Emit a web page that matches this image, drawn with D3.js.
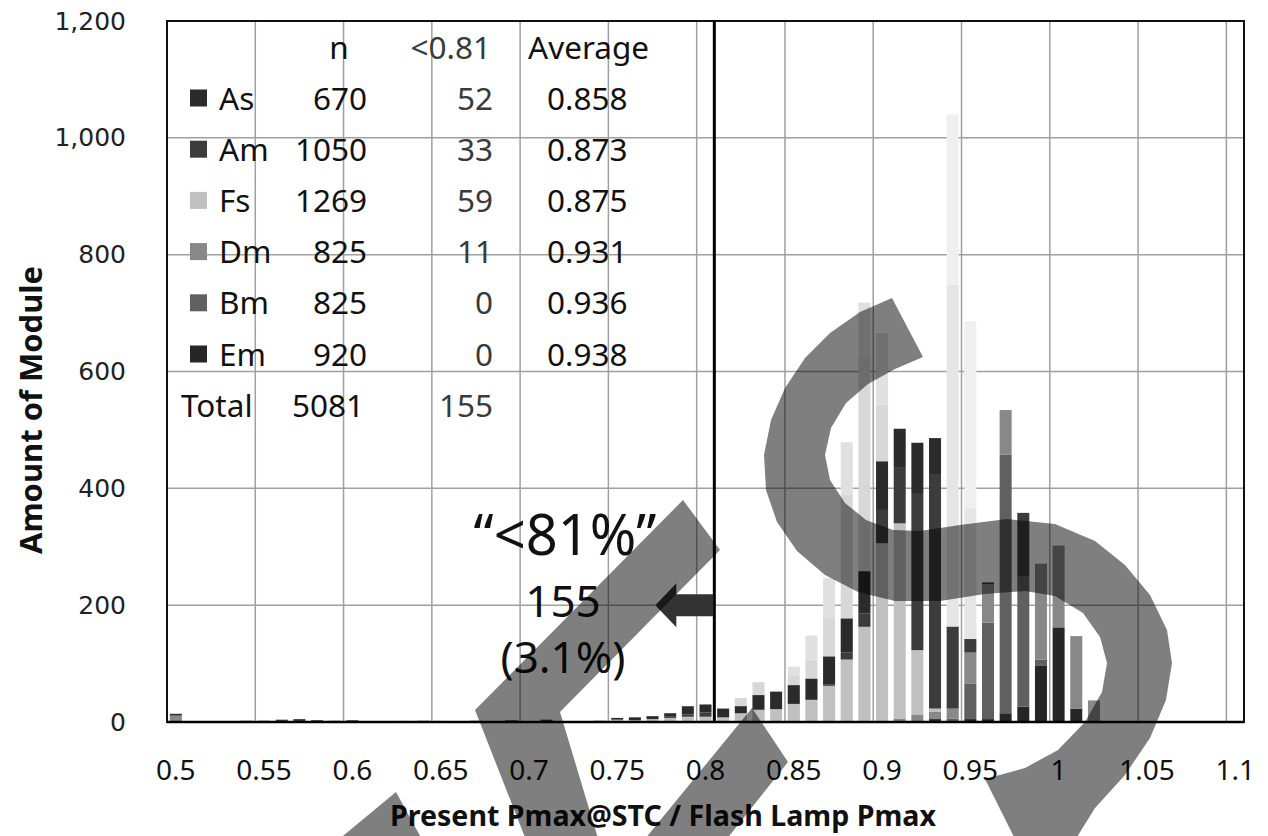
<!DOCTYPE html>
<html>
<head>
<meta charset="utf-8">
<script src="https://cdn.jsdelivr.net/npm/d3@7"></script>
<style>
  html, body { margin: 0; padding: 0; background: #fff; }
  svg { display: block; }
</style>
</head>
<body>
<svg id="chart" width="1268" height="836"></svg>
<script>
// Histogram bins of the Pmax ratio (0.01 wide)
const bins = [
  0.50, 0.51, 0.52, 0.53, 0.54, 0.55, 0.56, 0.57, 0.58, 0.59,
  0.60, 0.61, 0.62, 0.63, 0.64, 0.65, 0.66, 0.67, 0.68, 0.69,
  0.70, 0.71, 0.72, 0.73, 0.74, 0.75, 0.76, 0.77, 0.78, 0.79,
  0.80, 0.81, 0.82, 0.83, 0.84, 0.85, 0.86, 0.87, 0.88, 0.89,
  0.90, 0.91, 0.92, 0.93, 0.94, 0.95, 0.96, 0.97, 0.98, 0.99,
  1.00, 1.01, 1.02, 1.03, 1.04, 1.05, 1.06, 1.07, 1.08, 1.09,
  1.10
];
const tickLabels = ["0.5", "0.55", "0.6", "0.65", "0.7", "0.75", "0.8",
                    "0.85", "0.9", "0.95", "1", "1.05", "1.1"];
const yTicks = [0, 200, 400, 600, 800, 1000, 1200];

// Module counts per bin, one array per plant
const Em = [
  0, 0, 0, 0, 0, 0, 0, 0, 0, 0,
  0, 0, 0, 0, 0, 0, 0, 0, 0, 0,
  0, 0, 0, 0, 0, 0, 0, 0, 0, 0,
  0, 0, 0, 0, 0, 0, 0, 0, 0, 0,
  0, 0, 0, 5, 0, 5, 5, 15, 26, 96,
  162, 23, 0, 0, 0, 0, 0, 0, 0, 0,
  0
];
const Bm = [
  0, 0, 0, 0, 0, 0, 0, 0, 0, 0,
  0, 0, 0, 0, 0, 0, 0, 0, 0, 0,
  0, 0, 0, 0, 0, 0, 0, 0, 0, 0,
  0, 0, 0, 0, 0, 0, 0, 0, 0, 0,
  0, 0, 0, 0, 6, 61, 165, 443, 224, 11,
  0, 0, 0, 0, 0, 0, 0, 0, 0, 0,
  0
];
const Dm = [
  11, 0, 0, 0, 0, 0, 0, 0, 0, 0,
  0, 0, 0, 0, 0, 0, 0, 0, 0, 0,
  0, 0, 0, 0, 0, 0, 0, 0, 0, 0,
  0, 0, 0, 0, 0, 0, 0, 0, 0, 0,
  0, 6, 13, 13, 17, 53, 66, 76, 0, 164,
  140, 124, 37, 0, 0, 0, 0, 0, 0, 0,
  0
];
const Fs = [
  0, 0, 0, 0, 3, 3, 0, 0, 0, 3,
  0, 0, 0, 2, 3, 2, 0, 3, 0, 0,
  0, 0, 0, 0, 3, 4, 3, 5, 7, 9,
  9, 8, 15, 21, 22, 31, 38, 62, 107, 163,
  306, 334, 110, 5, 0, 0, 0, 0, 0, 0,
  0, 0, 0, 0, 0, 0, 0, 0, 0, 0,
  0
];
const Am = [
  0, 0, 0, 0, 0, 0, 4, 5, 0, 0,
  3, 0, 0, 0, 0, 0, 0, 0, 0, 3,
  0, 4, 0, 0, 0, 0, 0, 0, 3, 4,
  7, 0, 0, 0, 0, 0, 0, 2, 12, 23,
  57, 95, 269, 400, 140, 23, 3, 0, 108, 0,
  0, 0, 0, 0, 0, 0, 0, 0, 0, 0,
  0
];
const As = [
  3, 0, 0, 0, 0, 0, 0, 0, 3, 0,
  0, 0, 0, 0, 0, 0, 0, 0, 0, 0,
  0, 0, 0, 0, 0, 3, 5, 5, 5, 14,
  14, 15, 12, 25, 30, 32, 36, 48, 58, 72,
  83, 67, 86, 63, 0, 0, 0, 0, 0, 0,
  0, 0, 0, 0, 0, 0, 0, 0, 0, 0,
  0
];

// Faint background columns behind the stacks (two tones, lower and upper parts)
const faintLower = [
  0, 0, 0, 0, 0, 0, 0, 0, 0, 0,
  0, 0, 0, 0, 0, 0, 0, 0, 0, 0,
  0, 0, 0, 0, 0, 0, 0, 0, 0, 0,
  0, 0, 41, 68, 0, 80, 107, 178, 389, 625,
  543, 0, 0, 0, 0, 0, 0, 0, 0, 0,
  0, 0, 0, 0, 0, 0, 0, 0, 0, 0,
  0
];
const faintUpper = [
  0, 0, 0, 0, 0, 0, 0, 0, 0, 0,
  0, 0, 0, 0, 0, 0, 0, 0, 0, 0,
  0, 0, 0, 0, 0, 0, 0, 0, 0, 0,
  0, 0, 0, 0, 0, 15, 41, 68, 90, 93,
  123, 0, 0, 0, 0, 0, 0, 0, 0, 0,
  0, 0, 0, 0, 0, 0, 0, 0, 0, 0,
  0
];
const paleLower = [
  0, 0, 0, 0, 0, 0, 0, 0, 0, 0,
  0, 0, 0, 0, 0, 0, 0, 0, 0, 0,
  0, 0, 0, 0, 0, 0, 0, 0, 0, 0,
  0, 0, 0, 0, 0, 0, 0, 0, 0, 0,
  0, 0, 0, 0, 749, 366, 0, 0, 0, 0,
  0, 0, 0, 0, 0, 0, 0, 0, 0, 0,
  0
];
const paleUpper = [
  0, 0, 0, 0, 0, 0, 0, 0, 0, 0,
  0, 0, 0, 0, 0, 0, 0, 0, 0, 0,
  0, 0, 0, 0, 0, 0, 0, 0, 0, 0,
  0, 0, 0, 0, 0, 0, 0, 0, 0, 0,
  0, 0, 0, 0, 291, 320, 0, 0, 0, 0,
  0, 0, 0, 0, 0, 0, 0, 0, 0, 0,
  0
];

// Summary table
const tableNames = ["As", "Am", "Fs", "Dm", "Bm", "Em"];
const tableN = [670, 1050, 1269, 825, 825, 920];
const tableBelow = [52, 33, 59, 11, 0, 0];
const tableAvg = ["0.858", "0.873", "0.875", "0.931", "0.936", "0.938"];
const totalN = 5081;
const totalBelow = 155;
const threshold = 0.81;
const calloutCount = 155;
const calloutShare = "3.1%";

// ---------------------------------------------------------------
const colors = {
  Em: "#262626", Bm: "#606060", Dm: "#888888",
  Fs: "#c0c0c0", Am: "#3c3c3c", As: "#2b2b2b"
};
const stackOrder = ["Em", "Bm", "Dm", "Fs", "Am", "As"];
const seriesData = { Em, Bm, Dm, Fs, Am, As };
const faintData = { faintLower, paleLower, faintUpper, paleUpper };
const faintOrder = ["faintLower", "paleLower", "faintUpper", "paleUpper"];
const faintColors = {
  faintLower: "#d8d8d8", faintUpper: "#e0e0e0",
  paleLower: "#e5e5e5", paleUpper: "#efefef"
};

const svg = d3.select("#chart");
const plot = { left: 167, right: 1244, top: 21, bottom: 722 };

const x = d3.scaleBand()
  .domain(bins)
  .range([plot.left, plot.right])
  .paddingInner(0.32)
  .paddingOuter(0.16);
const y = d3.scaleLinear().domain([0, 1200]).range([plot.bottom, plot.top]);
const half = x.step() * 0.16;   // half gap, so cell edges are x(b) - half
const cellLeft = b => x(b) - half;

// grid
const grid = svg.append("g").attr("stroke", "#a0a0a0").attr("stroke-width", 1.5);
grid.selectAll("line.h")
  .data(yTicks.filter(v => v > 0 && v < 1200))
  .join("line")
  .attr("x1", plot.left).attr("x2", plot.right)
  .attr("y1", d => y(d)).attr("y2", d => y(d));
grid.selectAll("line.v")
  .data(bins.filter((b, i) => i > 0 && i % 5 === 0))
  .join("line")
  .attr("x1", d => cellLeft(d)).attr("x2", d => cellLeft(d))
  .attr("y1", plot.top).attr("y2", plot.bottom);

const rows = bins.map((b, i) => {
  const r = { bin: b };
  stackOrder.forEach(k => r[k] = seriesData[k][i]);
  faintOrder.forEach(k => r[k] = faintData[k][i]);
  return r;
});

function drawStack(keys, fills) {
  svg.append("g").selectAll("g")
    .data(d3.stack().keys(keys)(rows))
    .join("g")
    .attr("fill", d => fills[d.key])
    .selectAll("rect")
    .data(d => d.filter(s => s[1] > s[0]))
    .join("rect")
    .attr("x", d => x(d.data.bin))
    .attr("width", x.bandwidth())
    .attr("y", d => y(d[1]))
    .attr("height", d => y(d[0]) - y(d[1]));
}
drawStack(faintOrder, faintColors);   // faint columns behind
drawStack(stackOrder, colors);        // stacked columns

// frame
svg.append("rect")
  .attr("x", plot.left).attr("y", plot.top)
  .attr("width", plot.right - plot.left).attr("height", plot.bottom - plot.top)
  .attr("fill", "none").attr("stroke", "#111").attr("stroke-width", 2);
svg.append("line")
  .attr("x1", plot.left).attr("x2", plot.right)
  .attr("y1", plot.bottom).attr("y2", plot.bottom)
  .attr("stroke", "#000").attr("stroke-width", 2.5);

// threshold line at 0.81
const thrX = cellLeft(threshold);
svg.append("line")
  .attr("x1", thrX).attr("x2", thrX)
  .attr("y1", plot.top).attr("y2", plot.bottom)
  .attr("stroke", "#000").attr("stroke-width", 3);

// axes
const xAxis = d3.axisBottom(x)
  .tickValues(bins.filter((b, i) => i % 5 === 0))
  .tickFormat((d, i) => tickLabels[i])
  .tickSize(0);
const gx = svg.append("g").attr("transform", `translate(0,${plot.bottom})`).call(xAxis);
gx.select(".domain").remove();
gx.selectAll("text")
  .attr("font-family", "'Noto Sans', sans-serif")
  .attr("font-size", 28).attr("fill", "#111")
  .attr("dy", 0).attr("y", 58);

const yAxis = d3.axisLeft(y).tickValues(yTicks).tickFormat(d3.format(",")).tickSize(0).tickPadding(41);
const gy = svg.append("g").attr("transform", `translate(${plot.left},0)`).call(yAxis);
gy.select(".domain").remove();
gy.selectAll("text")
  .attr("font-family", "'DejaVu Sans', sans-serif")
  .attr("font-size", 25).attr("fill", "#222");

svg.append("text")
  .attr("transform", "translate(42,410) rotate(-90)")
  .attr("text-anchor", "middle")
  .attr("font-family", "'Noto Sans', sans-serif")
  .attr("font-weight", "bold").attr("font-size", 30)
  .attr("textLength", 288).attr("lengthAdjust", "spacingAndGlyphs")
  .attr("fill", "#111")
  .text("Amount of Module");

svg.append("text")
  .attr("x", 663).attr("y", 826)
  .attr("text-anchor", "middle")
  .attr("font-family", "'Noto Sans', sans-serif")
  .attr("font-weight", "bold").attr("font-size", 29)
  .attr("textLength", 546).attr("lengthAdjust", "spacingAndGlyphs")
  .attr("fill", "#111")
  .text("Present Pmax@STC / Flash Lamp Pmax");

// summary table
const table = svg.append("g")
  .attr("font-family", "'Noto Sans', sans-serif")
  .attr("font-size", 31.5).attr("fill", "#111");
const rowY = i => 98 + i * 51.2;
const base = 11.5;
table.append("text").attr("x", 339).attr("y", 47 + base).attr("text-anchor", "middle").text("n");
table.append("text").attr("x", 491).attr("y", 47 + base).attr("text-anchor", "end").attr("fill", "#3a3a3a").text("<0.81");
table.append("text").attr("x", 528).attr("y", 47 + base).text("Average");
tableNames.forEach((name, i) => {
  const cy = rowY(i);
  table.append("rect").attr("x", 190).attr("y", cy - 8.5).attr("width", 17).attr("height", 17)
    .attr("fill", colors[name]);
  table.append("text").attr("x", 219).attr("y", cy + base).text(name);
  table.append("text").attr("x", 367).attr("y", cy + base).attr("text-anchor", "end").text(tableN[i]);
  table.append("text").attr("x", 493).attr("y", cy + base).attr("text-anchor", "end").attr("fill", "#3a3a3a").text(tableBelow[i]);
  table.append("text").attr("x", 547).attr("y", cy + base).text(tableAvg[i]);
});
table.append("text").attr("x", 181).attr("y", rowY(6) + base).text("Total");
table.append("text").attr("x", 364).attr("y", rowY(6) + base).attr("text-anchor", "end").text(totalN);
table.append("text").attr("x", 493).attr("y", rowY(6) + base).attr("text-anchor", "end").attr("fill", "#3a3a3a").text(totalBelow);

// callout
const call = svg.append("g")
  .attr("font-family", "'Noto Sans', sans-serif").attr("fill", "#111")
  .attr("text-anchor", "middle");
call.append("text").attr("x", 565).attr("y", 555).attr("font-size", 56).text("\u201C<81%\u201D");
call.append("text").attr("x", 563).attr("y", 617).attr("font-size", 44).text(calloutCount);
call.append("text").attr("x", 563).attr("y", 673).attr("font-size", 44).text(`(${calloutShare})`);

// arrow pointing left from the threshold line at the 200 level
const ay = y(200);
svg.append("path")
  .attr("d", `M${thrX - 1},${ay - 11} L${thrX - 38},${ay - 11} L${thrX - 38},${ay - 22}
              L${thrX - 59},${ay} L${thrX - 38},${ay + 22} L${thrX - 38},${ay + 11}
              L${thrX - 1},${ay + 11} Z`)
  .attr("fill", "#333");

// translucent watermark strokes on top
const wm = svg.append("g").attr("fill", "#000").attr("fill-opacity", 0.5);
const poly = d3.line().curve(d3.curveLinearClosed);
const sShape = [
  [892, 298], [860, 312], [830, 333], [805, 358], [785, 388], [771, 420], [764, 455],
  [766, 490], [777, 522], [797, 551], [825, 575], [858, 592], [895, 601], [940, 601],
  [985, 594], [1025, 591], [1055, 596], [1083, 613], [1100, 637], [1107, 663],
  [1102, 692], [1085, 722], [1058, 750], [1025, 768], [985, 779], [1018, 845],
  [1072, 845], [1095, 808], [1125, 775], [1150, 738], [1166, 700], [1172, 663],
  [1167, 630], [1150, 595], [1125, 565], [1095, 541], [1055, 524], [1007, 519],
  [960, 525], [920, 531], [893, 530], [866, 520], [845, 503], [830, 480], [825, 455],
  [831, 428], [846, 403], [868, 384], [895, 369], [923, 357]
];
const chevron = [[683, 500], [720, 550], [560, 712], [600, 845], [528, 845], [475, 710]];
const strokeB = [[752, 708], [788, 762], [722, 845], [640, 845]];
const strokeC = [[396, 792], [425, 845], [332, 845]];
wm.selectAll("path")
  .data([sShape, chevron, strokeB, strokeC])
  .join("path")
  .attr("d", d => poly(d));
</script>
</body>
</html>
